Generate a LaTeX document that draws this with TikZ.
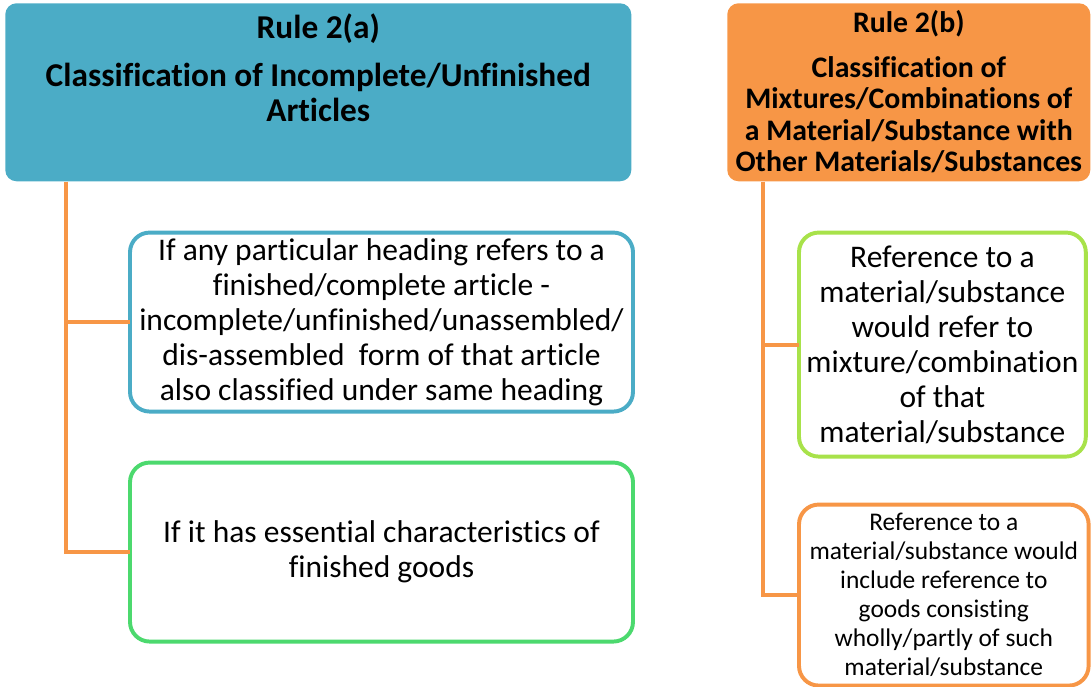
\documentclass[tikz,border=0pt]{standalone}
\usepackage{fontspec}
\setmainfont{Carlito}[Ligatures=NoCommon]
\usetikzlibrary{positioning}
\definecolor{ruleteal}{HTML}{4BACC6}
\definecolor{ruleorange}{HTML}{F79646}
\definecolor{itemgreen}{HTML}{4CD96E}
\definecolor{itemlime}{HTML}{A8E24A}

\begin{document}
\begin{tikzpicture}[
  every node/.style={execute at begin node={\spaceskip=0.226em\relax}},
  head/.style={rounded corners=8pt,anchor=north west,align=center,inner xsep=2pt,inner ysep=0pt},
  item/.style={draw,line width=2.8pt,rounded corners=14pt,fill=white,align=center,inner xsep=1pt,outer sep=0pt,
    font={\fontsize{22.4}{24.9}\selectfont}},
  link/.style={ruleorange,line width=2.8pt},node distance=1.2cm]
\useasboundingbox (0,0) rectangle (27.275,-17.175);
% the two rule headers
\node[head,fill=ruleteal,text width=15.51cm,text height=0.875cm,text depth=3.575cm,
  font={\bfseries\fontsize{23.7}{24.9}\selectfont}] (rulea) at (0.125,-0.075)
  {Rule 2(a)\\[0.325cm]Classification of Incomplete/Unfinished\\Articles};
\node[head,fill=ruleorange,text width=8.935cm,text height=0.725cm,text depth=3.725cm,
  font={\bfseries\fontsize{21.2}{22.4}\selectfont}] (ruleb) at (18.175,-0.075)
  {Rule 2(b)\\[0.34cm]Classification of\\Mixtures/Combinations of\\a Material/Substance with\\Other Materials/Substances};
% rule 2(a) items
\node[item,draw=ruleteal,text width=12.5cm,minimum width=12.575cm,minimum height=4.475cm,
  below right=1.275cm and 3.125cm of rulea.south west] (incomplete)
  {If any particular heading refers to a\\finished/complete article -\\incomplete/unfinished/unassembled/\\dis-assembled~~form of that article\\also classified under same heading};
\node[item,draw=itemgreen,text width=12.5cm,minimum width=12.575cm,minimum height=4.475cm,
  below=1.275cm of incomplete] (essential)
  {If it has essential characteristics of\\finished goods};
% rule 2(b) items
\node[item,draw=itemlime,text width=7.1cm,minimum width=7.15cm,minimum height=5.6cm,
  below right=1.275cm and 1.8cm of ruleb.south west] (mixture)
  {Reference to a\\material/substance\\would refer to\\mixture/combination\\of that\\material/substance};
\node[item,draw=ruleorange,text width=7.17cm,minimum width=7.225cm,minimum height=4.525cm,
  below right=1.2cm and 0cm of mixture.south west,font={\fontsize{18.1}{20.6}\selectfont}] (goods)
  {Reference to a\\material/substance would\\include reference to\\goods consisting\\wholly/partly of such\\material/substance};
% trunks
\coordinate (trunka) at ([xshift=1.525cm]rulea.south west);
\coordinate (trunkb) at ([xshift=0.9cm]ruleb.south west);
\draw[link] (trunka) |- (incomplete.west);
\draw[link] (trunka) |- (essential.west);
\draw[link] (trunkb) |- (mixture.west);
\draw[link] (trunkb) |- (goods.west);
\end{tikzpicture}
\end{document}
